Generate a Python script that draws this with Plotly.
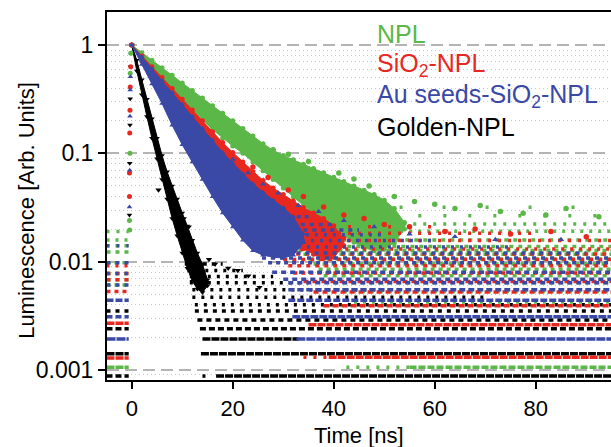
import plotly.graph_objects as go

# ---------------- data ----------------
series_names = ["NPL", "SiO<sub>2</sub>-NPL", "Au seeds-SiO<sub>2</sub>-NPL", "Golden-NPL"]

# --- main decay bands: time [ns], upper and lower envelope of the dot cloud
green_t = [0, 2, 4, 6, 8, 10, 12, 14, 16, 18, 20, 22, 24, 26, 28, 30, 32, 34, 36, 38, 40, 42, 44, 46, 48, 50, 52, 54]
green_hi = [1, 0.851, 0.724, 0.617, 0.525, 0.447, 0.380, 0.324, 0.275, 0.234, 0.200, 0.170, 0.145, 0.123, 0.107,
            0.0955, 0.0871, 0.0794, 0.0724, 0.0661, 0.0603, 0.0550, 0.0501, 0.0457, 0.0417, 0.0370, 0.0310, 0.0230]
green_lo = [1, 0.776, 0.631, 0.501, 0.389, 0.309, 0.251, 0.204, 0.166, 0.138, 0.117, 0.100, 0.0832, 0.0692, 0.0575,
            0.0479, 0.0398, 0.0331, 0.0275, 0.0234, 0.0200, 0.0174, 0.0151, 0.0135, 0.0126, 0.0130, 0.0150, 0.0200]

red_t = [0, 2, 4, 6, 8, 10, 12, 14, 16, 18, 20, 22, 24, 26, 28, 30, 32, 34, 36, 38, 40, 42]
red_hi = [1, 0.794, 0.631, 0.501, 0.398, 0.316, 0.251, 0.200, 0.158, 0.126, 0.102, 0.0832, 0.0676, 0.0562, 0.0479,
          0.0417, 0.0363, 0.0316, 0.0282, 0.0251, 0.0215, 0.0165]
red_lo = [1, 0.708, 0.513, 0.372, 0.275, 0.204, 0.151, 0.110, 0.0832, 0.0631, 0.0490, 0.0380, 0.0302, 0.0245, 0.0204,
          0.0174, 0.0148, 0.0132, 0.0117, 0.0107, 0.0110, 0.0140]

blue_t = [0, 2, 4, 6, 8, 10, 12, 14, 16, 18, 20, 22, 24, 26, 28, 30, 32, 34]
blue_hi = [1, 0.776, 0.603, 0.468, 0.363, 0.282, 0.219, 0.170, 0.132, 0.102, 0.0813, 0.0646, 0.0525, 0.0437, 0.0372,
           0.0316, 0.0260, 0.0180]
blue_lo = [1, 0.661, 0.437, 0.288, 0.182, 0.120, 0.0832, 0.0575, 0.0398, 0.0282, 0.0209, 0.0158, 0.0126, 0.0115,
           0.0110, 0.0108, 0.0115, 0.0150]

black_t = [0, 1, 2, 3, 4, 5, 6, 7, 8, 9, 10, 11, 12, 13, 14, 15]
black_hi = [1, 0.724, 0.479, 0.316, 0.209, 0.138, 0.0955, 0.0676, 0.0501, 0.0380, 0.0282, 0.0214, 0.0158, 0.0120,
            0.0095, 0.0068]
black_lo = [1, 0.575, 0.347, 0.219, 0.138, 0.0891, 0.0575, 0.0380, 0.0251, 0.0174, 0.0120, 0.0087, 0.0066, 0.0056,
            0.0052, 0.0060]

# --- rising edge points just before t = 0
green_rise_t = [-0.35, -0.45, -0.30, -0.20, -0.40]
green_rise_v = [0.100, 0.024, 0.55, 0.84, 0.0196]
red_rise_t = [-0.35, -0.40, -0.45, -0.45, -0.20, -0.30]
red_rise_v = [0.25, 0.154, 0.066, 0.040, 0.63, 0.41]
blue_rise_t = [-0.30, -0.35, -0.40, -0.45, -0.25]
blue_rise_v = [0.385, 0.22, 0.070, 0.032, 0.51]
black_rise_t = [-0.30, -0.35, -0.40, -0.45, -0.25]
black_rise_v = [0.32, 0.183, 0.081, 0.027, 0.63]

# --- scattered single points off the main clouds
black_out_t = [5.3, 10.3, 11.3, 15.3, 16.5, 19.1, 21.0, 23.1, 25.3]
black_out_v = [0.046, 0.025, 0.021, 0.0105, 0.0095, 0.0087, 0.0083, 0.0074, 0.0058]
green_out_t = [28, 31, 35, 41, 44, 47, 52, 56, 60, 64, 69, 73, 77.5, 82, 86, 92.5]
green_out_v = [0.108, 0.098, 0.084, 0.066, 0.058, 0.050, 0.040, 0.036, 0.034, 0.031, 0.033, 0.029, 0.028, 0.027, 0.031, 0.026]
red_out_t = [24, 27, 31, 34, 38, 42, 46, 50, 55, 62, 68, 75, 83, 90]
red_out_v = [0.075, 0.060, 0.046, 0.040, 0.032, 0.027, 0.025, 0.022, 0.021, 0.019, 0.020, 0.018, 0.019, 0.017]
blue_out_t = [20, 23, 26, 29, 33, 37, 42, 48, 55, 64, 72, 85]
blue_out_v = [0.088, 0.066, 0.052, 0.043, 0.033, 0.029, 0.024, 0.021, 0.018, 0.017, 0.016, 0.016]

# --- quantised count rows after the decay: level, start time, end time, fraction of bins filled
green_row_v = [0.00106, 0.00106, 0.00424, 0.0053, 0.0064, 0.0074, 0.0085, 0.0095, 0.0106, 0.0117, 0.0127, 0.0138,
               0.0159, 0.0191, 0.0223, 0.0265, 0.0318]
green_row_t0 = [42.5, 55, 44, 42, 40, 38, 37, 36, 35, 34, 33, 32, 31, 30, 30, 32, 36]
green_row_t1 = [55, 95, 95, 95, 95, 95, 95, 95, 95, 95, 95, 95, 95, 95, 95, 95, 95]
green_row_d = [0.2, 0.75, 0.3, 0.35, 0.4, 0.45, 0.5, 0.55, 0.6, 0.55, 0.5, 0.45, 0.4, 0.3, 0.2, 0.12, 0.07]

red_row_v = [0.00131, 0.00131, 0.00262, 0.00393, 0.00524, 0.00655, 0.00786, 0.00917, 0.01048, 0.0118, 0.0131,
             0.0157, 0.0183, 0.0210]
red_row_t0 = [34, 39, 35, 38, 36, 34, 32, 31, 30, 29, 28, 27, 27, 27]
red_row_t1 = [39, 95, 95, 95, 95, 95, 95, 95, 95, 95, 95, 95, 80, 60]
red_row_d = [0.25, 0.85, 0.85, 0.65, 0.6, 0.55, 0.5, 0.45, 0.45, 0.4, 0.35, 0.25, 0.2, 0.15]

blue_row_v = [0.00193, 0.0031, 0.0044, 0.0055, 0.0064, 0.0069, 0.0080, 0.0098, 0.0108, 0.0120, 0.0137, 0.0157,
              0.0177, 0.0196, 0.0220, 0.0260]
blue_row_t0 = [32.6, 31.8, 31, 31, 31, 30, 27.8, 27, 25.8, 25.5, 24, 23, 22, 21.5, 21, 20]
blue_row_t1 = [95, 95, 95, 95, 95, 95, 95, 95, 95, 90, 75, 60, 50, 45, 40, 35]
blue_row_d = [0.95, 0.9, 0.8, 0.7, 0.6, 0.55, 0.55, 0.5, 0.45, 0.4, 0.35, 0.35, 0.35, 0.4, 0.45, 0.5]

black_row_v = [0.00088, 0.00088, 0.00141, 0.00193, 0.0024, 0.0029, 0.0035, 0.0040, 0.0047, 0.0055, 0.0064, 0.0073,
               0.0083, 0.0095]
black_row_t0 = [14, 16.7, 13.7, 14, 13.5, 13, 12.5, 12.5, 12, 12, 11.5, 11.5, 11, 10.5]
black_row_t1 = [16.7, 95, 95, 33, 95, 95, 95, 95, 70, 50, 35, 28, 22, 18]
black_row_d = [0.1, 0.9, 0.9, 0.9, 0.7, 0.55, 0.45, 0.35, 0.3, 0.3, 0.3, 0.3, 0.35, 0.4]

# --- rows of counts before the excitation pulse (t < 0)
pre_t0, pre_t1 = -5.0, -0.6
green_pre_v = [0.00106, 0.0061, 0.0068, 0.0078, 0.0098, 0.0123, 0.0140, 0.0159, 0.0190]
green_pre_d = [0.9, 0.5, 0.4, 0.4, 0.5, 0.4, 0.35, 0.3, 0.25]
red_pre_v = [0.00129, 0.0027, 0.0053, 0.0068, 0.0078, 0.0092]
red_pre_d = [0.9, 0.85, 0.5, 0.4, 0.4, 0.3]
blue_pre_v = [0.00193, 0.0031, 0.0044, 0.0061, 0.0078, 0.0098, 0.0140]
blue_pre_d = [0.95, 0.7, 0.8, 0.4, 0.3, 0.4, 0.2]
black_pre_v = [0.00088, 0.00141, 0.0024, 0.0035]
black_pre_d = [0.7, 0.9, 0.7, 0.4]

# axis ticks and titles
x_ticks = [0, 20, 40, 60, 80]
y_ticks = [0.001, 0.01, 0.1, 1]
y_ticktext = ["0.001", "0.01", "0.1", "1"]
x_title = "Time [ns]"
y_title = "Luminescence [Arb. Units]"

# ---------------- styling ----------------
GREEN = "#5bb848"
RED = "#e8281f"
BLUE = "#3a48a6"
BLACK = "#000000"
FONT = "Liberation Sans, Arial, sans-serif"


def dash_for(d):
    on = max(3, round(9 * d))
    off = max(1, round(9 * (1 - d)))
    if d < 0.2:
        off = round(3 / d) - 3
    return f"{on}px,{off}px"


fig = go.Figure()


def add_rows(vals, t0s, t1s, dens, color):
    for v, a, b, d in zip(vals, t0s, t1s, dens):
        fig.add_trace(go.Scatter(x=[a, b], y=[v, v], mode="lines",
                                 line=dict(color=color, width=3.5, dash=dash_for(d)),
                                 hoverinfo="skip", showlegend=False))


def add_points(t, v, color, sym, size=5):
    fig.add_trace(go.Scatter(x=t, y=v, mode="markers",
                             marker=dict(symbol=sym, size=size, color=color, line=dict(width=0)),
                             hoverinfo="skip", showlegend=False))


def add_series(color, sym, t, hi, lo, rise_t, rise_v, rows, pre, out):
    pv, pd = pre
    add_rows(pv, [pre_t0] * len(pv), [pre_t1] * len(pv), pd, color)
    add_rows(*rows, color)
    fig.add_trace(go.Scatter(x=t + t[::-1], y=hi + lo[::-1], mode="lines", fill="toself",
                             fillcolor=color, line=dict(color=color, width=1),
                             hoverinfo="skip", showlegend=False))
    add_points(t + t, hi + lo, color, sym)
    add_points(rise_t, rise_v, color, sym)
    add_points(out[0], out[1], color, sym, 5.5)


add_series(BLACK, "triangle-down", black_t, black_hi, black_lo, black_rise_t, black_rise_v,
           (black_row_v, black_row_t0, black_row_t1, black_row_d), (black_pre_v, black_pre_d),
           (black_out_t, black_out_v))
add_series(GREEN, "circle", green_t, green_hi, green_lo, green_rise_t, green_rise_v,
           (green_row_v, green_row_t0, green_row_t1, green_row_d), (green_pre_v, green_pre_d),
           (green_out_t, green_out_v))
add_series(RED, "circle", red_t, red_hi, red_lo, red_rise_t, red_rise_v,
           (red_row_v, red_row_t0, red_row_t1, red_row_d), (red_pre_v, red_pre_d),
           (red_out_t, red_out_v))
add_series(BLUE, "triangle-up", blue_t, blue_hi, blue_lo, blue_rise_t, blue_rise_v,
           (blue_row_v, blue_row_t0, blue_row_t1, blue_row_d), (blue_pre_v, blue_pre_d),
           (blue_out_t, blue_out_v))

# text legend
legend_colors = [GREEN, RED, BLUE, BLACK]
legend_y = [0.939, 0.856, 0.773, 0.688]
for name, col, yy in zip(series_names, legend_colors, legend_y):
    fig.add_annotation(text=name, x=0.532, y=yy, xref="paper", yref="paper",
                       xanchor="left", yanchor="middle", showarrow=False,
                       font=dict(family=FONT, size=25, color=col))

# axis titles
fig.add_annotation(text=y_title, x=-0.159, y=0.462, xref="paper", yref="paper", textangle=-90,
                   xanchor="center", yanchor="middle", showarrow=False,
                   font=dict(family=FONT, size=22, color="black"))
fig.add_annotation(text=x_title, x=0.5, y=-0.150, xref="paper", yref="paper",
                   xanchor="center", yanchor="middle", showarrow=False,
                   font=dict(family=FONT, size=22, color="black"))

minor_vals = [m * 10.0 ** e for e in range(-4, 1) for m in range(2, 10)]

fig.update_layout(
    width=611, height=447,
    margin=dict(l=107, r=0, t=12, b=67),
    paper_bgcolor="white", plot_bgcolor="white",
    font=dict(family=FONT, size=23, color="black"),
    showlegend=False,
    xaxis=dict(range=[-4.9, 94.9], tickvals=x_ticks, ticks="outside", ticklen=7, tickwidth=1.5,
               tickcolor="black", showline=True, linewidth=2, linecolor="black", mirror=True,
               showgrid=False, zeroline=False, tickfont=dict(size=22), automargin=False,
               ticklabelstandoff=1),
    yaxis=dict(type="log", range=[-3.092, 0.305], tickvals=y_ticks, ticktext=y_ticktext,
               ticks="outside", ticklen=7, tickwidth=1.5, tickcolor="black",
               showline=True, linewidth=2, linecolor="black", mirror=False,
               showgrid=True, gridcolor="#b4b4b4", gridwidth=1.5, griddash="12px,6px",
               zeroline=False, tickfont=dict(size=23), automargin=False,
               minor=dict(tickvals=minor_vals, showgrid=True, gridcolor="#c8c8c8",
                          gridwidth=1, griddash="1px,3px", ticks="")),
)

fig.write_html("out.html", config={"displayModeBar": False},
               post_script="document.body.style.margin='0';document.body.style.overflow='hidden';")
